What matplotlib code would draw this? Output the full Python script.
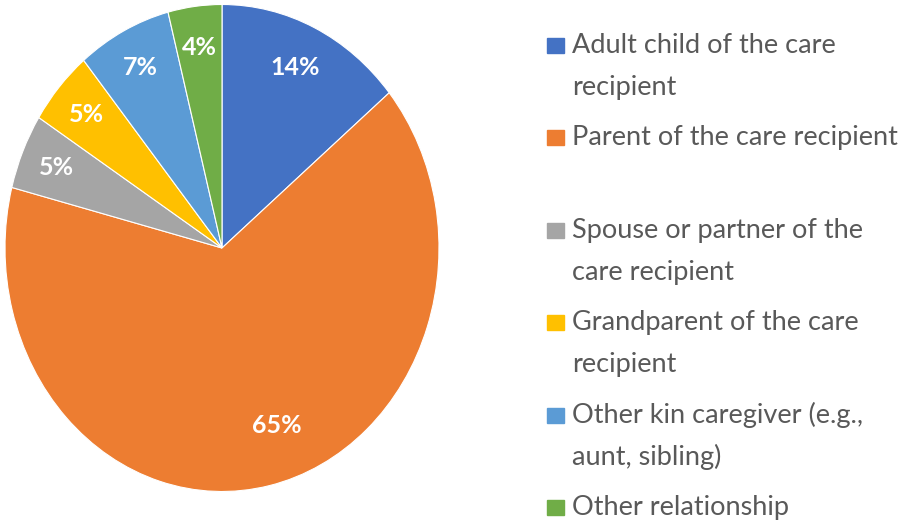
import matplotlib
matplotlib.use("Agg")
import matplotlib.pyplot as plt
from matplotlib.patches import Rectangle

plt.rcParams['font.family'] = ['Lato', 'DejaVu Sans']

categories = [
    "Adult child of the care\nrecipient",
    "Parent of the care recipient",
    "Spouse or partner of the\ncare recipient",
    "Grandparent of the care\nrecipient",
    "Other kin caregiver (e.g.,\naunt, sibling)",
    "Other relationship",
]
shares = [14, 65, 5, 5, 7, 4]
colors = ["#4472C4", "#ED7D31", "#A5A5A5", "#FFC000", "#5B9BD5", "#70AD47"]

W, H = 907, 523
fig = plt.figure(figsize=(W / 100, H / 100), dpi=100)

# pie is slightly stretched vertically in the reference
cx, cy, rx, ry = 222, 248, 217, 243.5
ax = fig.add_axes([(cx - rx) / W, (H - cy - ry) / H, 2 * rx / W, 2 * ry / H])
wedges, texts, autotexts = ax.pie(
    shares, colors=colors, startangle=90, counterclock=False,
    autopct=lambda p: f"{p:.0f}%", pctdistance=0.83,
    wedgeprops=dict(edgecolor="white", linewidth=0.8),
    textprops=dict(color="white", fontsize=18, fontweight="bold"),
)
ax.set_aspect("auto")
ax.set_xlim(-1, 1)
ax.set_ylim(-1, 1)
# first two labels are not on the common radius
autotexts[0].set_position((0.336, 0.743))
autotexts[1].set_position((0.253, -0.727))

# legend, drawn by hand: one slot per entry, text top aligned with the marker
y0, step, line_gap = 53, 92.4, 42
for i, (lab, col) in enumerate(zip(categories, colors)):
    base = y0 + i * step
    fig.patches.append(Rectangle((547 / W, 1 - base / H), 17 / W, 15 / H,
                                 transform=fig.transFigure, color=col))
    for j, line in enumerate(lab.split("\n")):
        fig.text(572 / W, 1 - (base + j * line_gap) / H, line, fontsize=19.5,
                 color="#595959", va="baseline", ha="left")

fig.savefig("out.png", dpi=100)
